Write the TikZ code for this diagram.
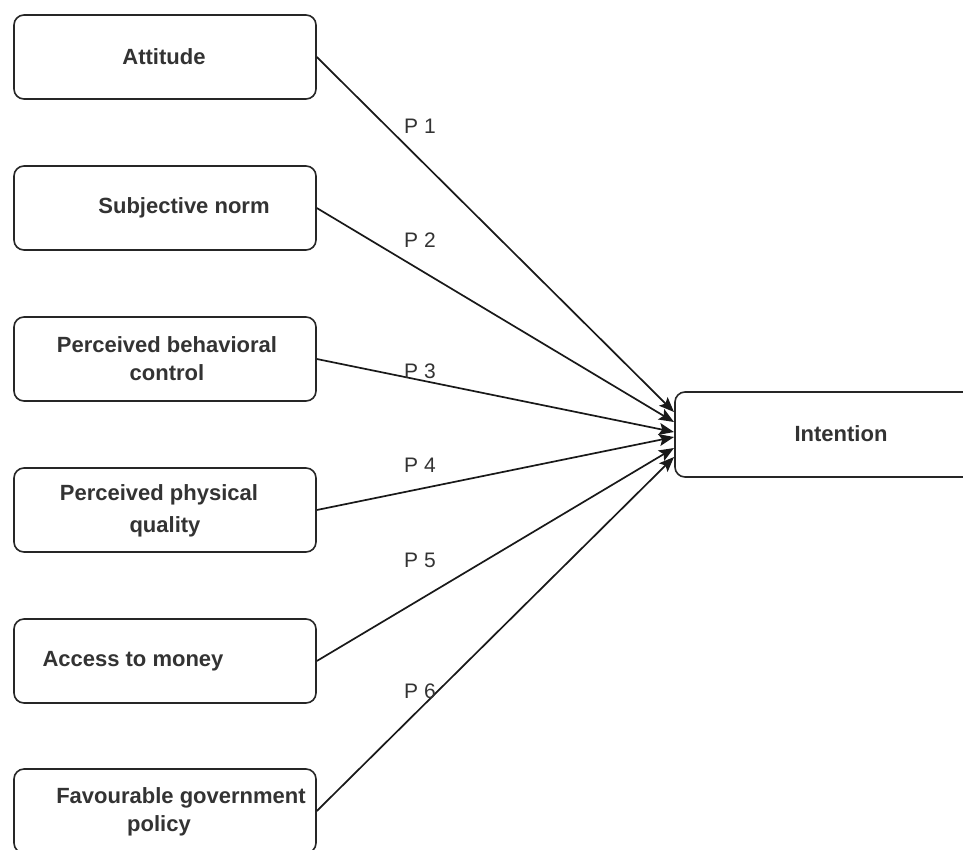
\documentclass[tikz,border=0pt]{standalone}
\usepackage{fontspec}
\setmainfont{Liberation Sans}
\usetikzlibrary{arrows.meta}
\begin{document}
\begin{tikzpicture}[x=1pt,y=-1pt,
  box/.style={draw=black!85, line width=1.6pt, rounded corners=10pt, minimum width=302pt, minimum height=84pt, inner sep=0pt},
  btxt/.style={font=\fontsize{22}{30}\selectfont\bfseries, text=black!80, align=center, inner sep=0pt},
  lbl/.style={font=\fontsize{21}{24}\selectfont, text=black!80, inner sep=0pt},
  conn/.style={line width=1.7pt, draw=black!90, -{Stealth[length=15pt,width=12pt,inset=3pt]}}
]
\useasboundingbox (0,0) rectangle (963,849);
\clip (0,0) rectangle (963,849);
\fill[white] (0,0) rectangle (963,849);

\node[box] (att) at (165,57) {};
\node[box] (sub) at (165,208) {};
\node[box] (pbc) at (165,359) {};
\node[box] (ppq) at (165,510) {};
\node[box] (acc) at (165,661) {};
\node[box] (fgp) at (165,811) {};
\node[box, minimum width=340pt, minimum height=85pt] (int) at (845,434.5) {};

\node[btxt] (tatt) at (164,57) {Attitude};
\node[btxt] (tsub) at (184,208) {Subjective norm};
\node[btxt] (tpbc) at (167,359) {Perceived behavioral\\[-2pt]control};
\node[btxt] (tppq1) at (159,495) {Perceived physical};
\node[btxt] (tppq2) at (165,527) {quality};
\node[btxt] (tacc) at (133,661) {Access to money};
\node[btxt] (tfgp1) at (181,798) {Favourable government};
\node[btxt] (tfgp2) at (159,826) {policy};
\node[btxt] (tint) at (841,434) {Intention};

\coordinate (e1) at (674,412);
\coordinate (e2) at (674,422);
\coordinate (e3) at (674,432);
\coordinate (e4) at (674,437);
\coordinate (e5) at (674,448);
\coordinate (e6) at (674,457);

\draw[conn] (att.east) -- (e1);
\draw[conn] (sub.east) -- (e2);
\draw[conn] (pbc.east) -- (e3);
\draw[conn] (ppq.east) -- (e4);
\draw[conn] (acc.east) -- (e5);
\draw[conn] (fgp.east) -- (e6);

\node[lbl] (p1) at (420,126) {P 1};
\node[lbl] (p2) at (420,240) {P 2};
\node[lbl] (p3) at (420,371) {P 3};
\node[lbl] (p4) at (420,465) {P 4};
\node[lbl] (p5) at (420,560) {P 5};
\node[lbl] (p6) at (420,691) {P 6};
\end{tikzpicture}
\end{document}
